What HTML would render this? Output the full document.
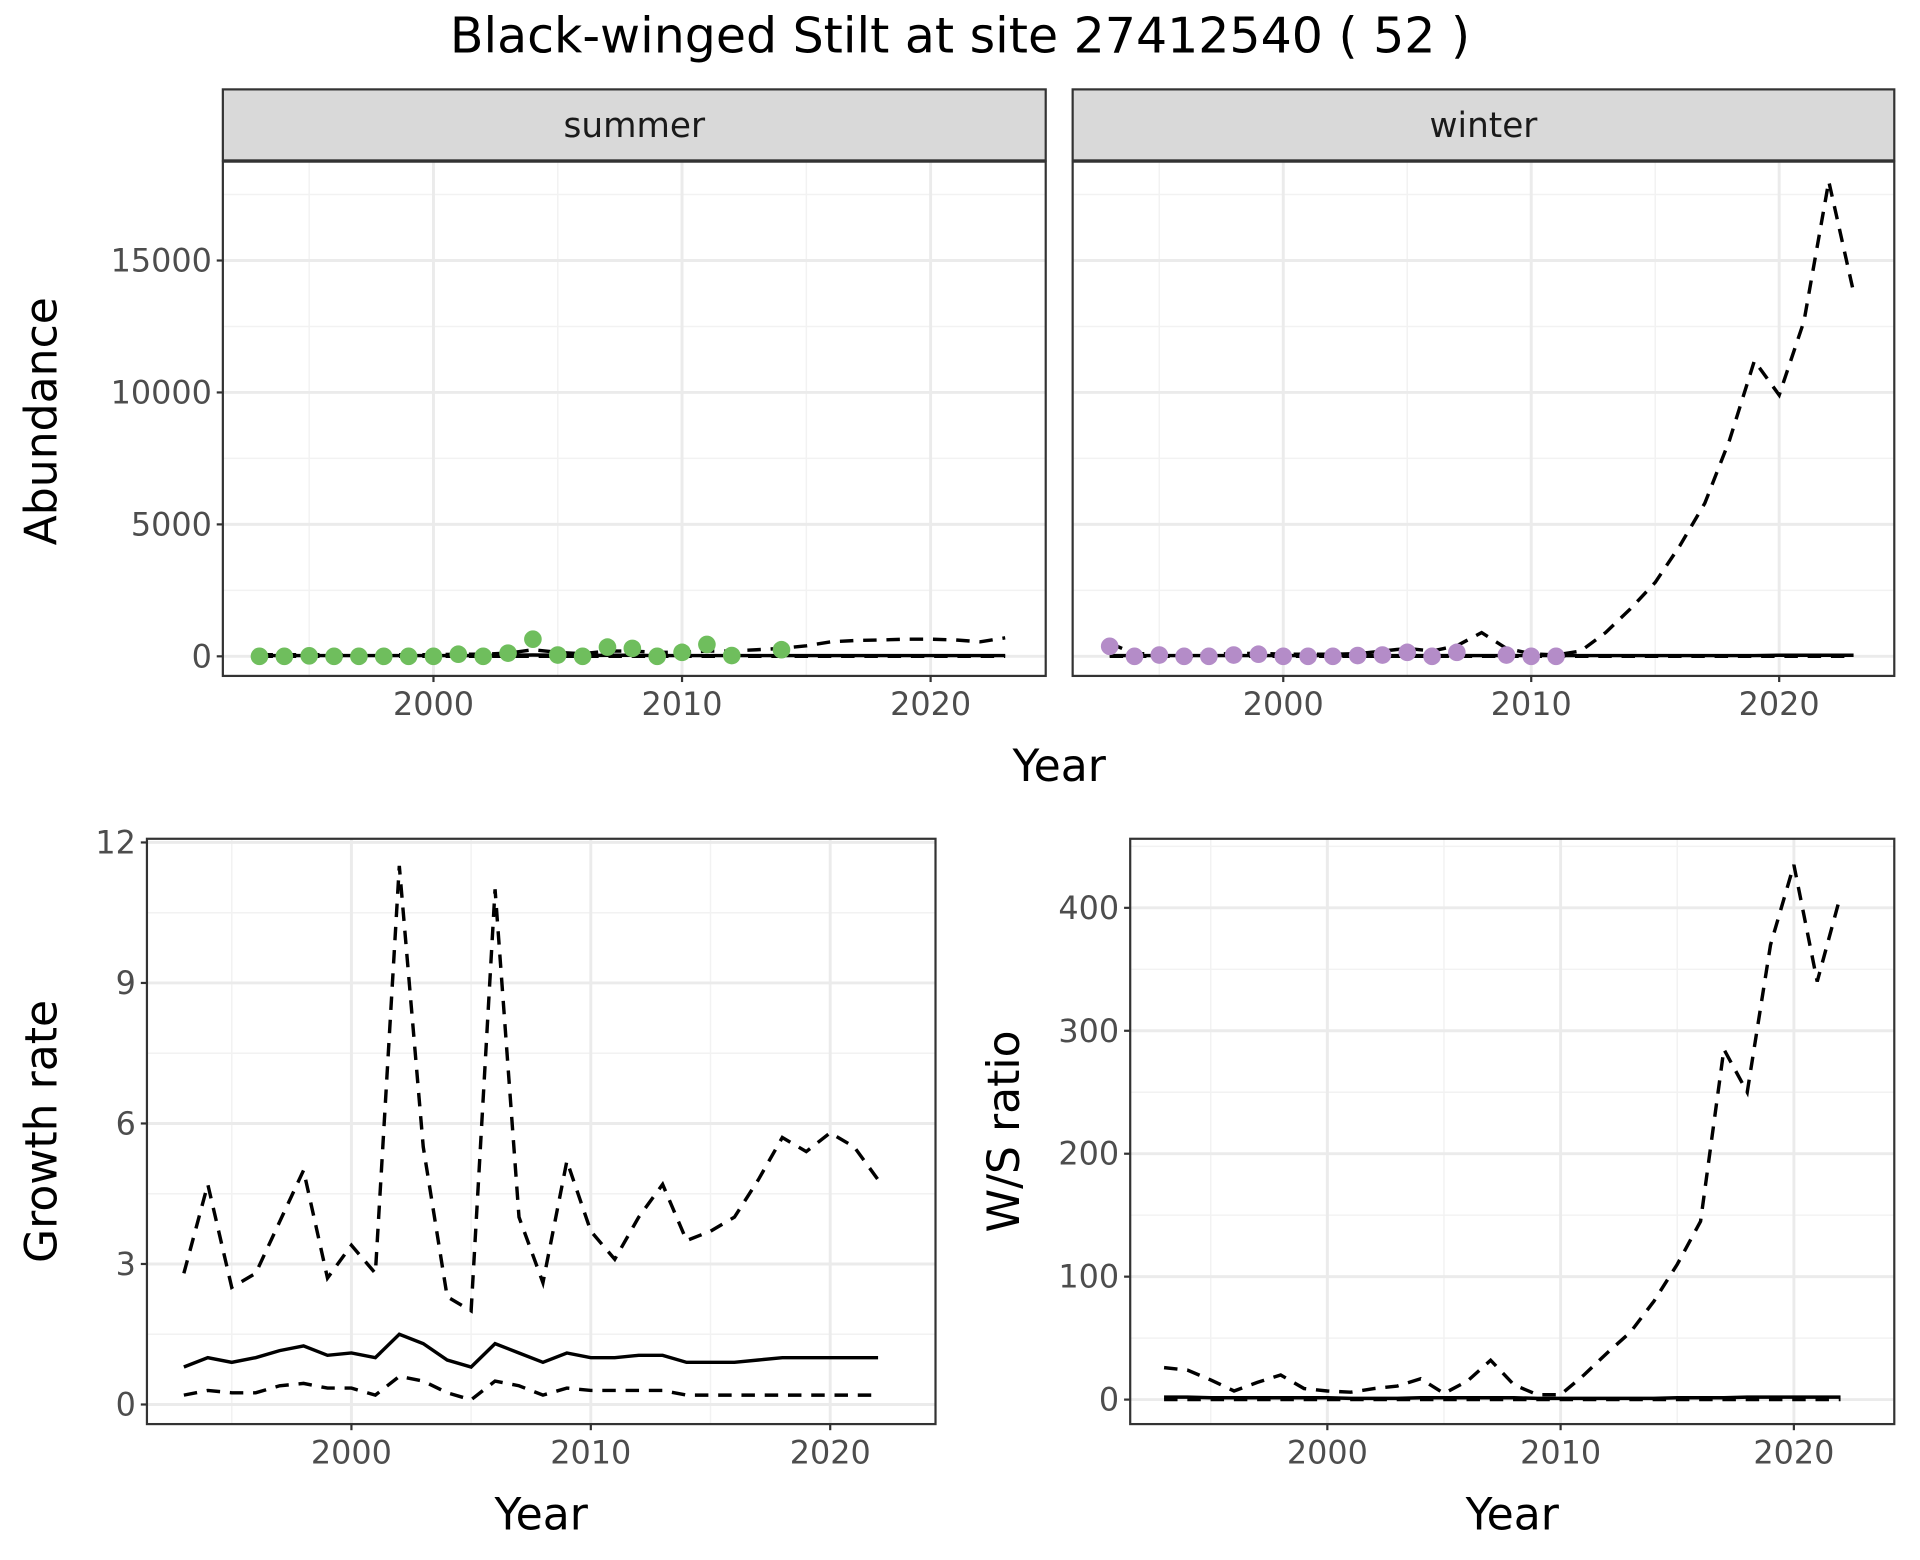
<!DOCTYPE html>
<html><head><meta charset="utf-8"><style>html,body{margin:0;padding:0;background:#fff}svg{display:block}text{font-family:"DejaVu Sans","Liberation Sans",sans-serif}</style></head>
<body>
<svg id="c" width="1920" height="1560" viewBox="0 0 1568 1274" xmlns="http://www.w3.org/2000/svg">
<text x="784" y="43" font-size="34" text-anchor="middle" fill="#000" style="font-size:40px">Black-winged Stilt at site 27412540 ( 52 )</text>
</svg>
<script>
const yearsAll=[1993,1994,1995,1996,1997,1998,1999,2000,2001,2002,2003,2004,2005,2006,2007,2008,2009,2010,2011,2012,2013,2014,2015,2016,2017,2018,2019,2020,2021,2022,2023];
const summerPtYears=[1993,1994,1995,1996,1997,1998,1999,2000,2001,2002,2003,2004,2005,2006,2007,2008,2009,2010,2011,2012,2014];
const summerPtVals=[0,0,20,0,0,0,0,0,80,0,120,650,50,0,350,300,0,150,450,30,250];
const summerFit=[30,30,30,30,30,30,30,30,30,30,40,50,40,30,40,40,30,30,30,30,30,30,30,30,30,30,30,30,30,30,30];
const summerUp=[60,60,60,60,60,60,60,60,80,80,120,250,150,100,200,200,150,150,200,200,250,300,400,550,600,620,650,650,620,550,700];
const summerLo=[0,0,0,0,0,0,0,0,0,0,0,0,0,0,0,0,0,0,0,0,0,0,0,0,0,0,0,0,0,0,0];
const winterPtYears=[1993,1994,1995,1996,1997,1998,1999,2000,2001,2002,2003,2004,2005,2006,2007,2009,2010,2011];
const winterPtVals=[380,0,50,0,0,50,80,0,0,0,30,50,150,0,150,50,0,0];
const winterFit=[30,30,30,30,30,30,30,30,30,30,30,30,30,30,30,30,30,30,30,30,30,30,30,30,30,30,30,40,40,40,40];
const winterUp=[500,100,100,80,80,100,120,80,80,80,100,200,300,200,400,900,300,100,50,200,900,1800,2800,4200,5800,8200,11200,9900,12700,18000,13800];
const winterLo=[0,0,0,0,0,0,0,0,0,0,0,0,0,0,0,0,0,0,0,0,0,0,0,0,0,0,0,0,0,0,0];
const gYears=yearsAll.slice(0,30);
const growthFit=[.8,1,.9,1,1.15,1.25,1.05,1.1,1,1.5,1.3,.95,.8,1.3,1.1,.9,1.1,1,1,1.05,1.05,.9,.9,.9,.95,1,1,1,1,1];
const growthUp=[2.8,4.7,2.5,2.8,3.9,5,2.7,3.4,2.8,11.5,5.5,2.3,2,11,4,2.6,5.2,3.7,3.1,4,4.7,3.5,3.7,4,4.8,5.7,5.4,5.8,5.5,4.8];
const growthLo=[.2,.3,.25,.25,.4,.45,.35,.35,.2,.6,.5,.25,.1,.5,.4,.2,.35,.3,.3,.3,.3,.2,.2,.2,.2,.2,.2,.2,.2,.2];
const ratioFit=[2,2,1.5,1.5,1.5,1.5,1.5,1.5,1,1,1,1.5,1.5,1.5,1.5,1.5,1,1,1,1,1,1,1.5,1.5,1.5,2,2,2,2,2];
const ratioUp=[26,24,16,7,14,20,9,7,6,9,11,17,5,15,32,12,4,4,20,38,55,80,110,145,285,250,370,435,340,410];
const ratioLo=[0,0,0,0,0,0,0,0,0,0,0,0,0,0,0,0,0,0,0,0,0,0,0,0,0,0,0,0,0,0];
const abTicks=[0,5000,10000,15000];
const xTicks=[2000,2010,2020];
const gTicks=[0,3,6,9,12];
const gTickLabels=["0","3","6","9","12"];
const rTicks=[0,100,200,300,400];

const svg=document.getElementById('c');
const NS='http://www.w3.org/2000/svg';
function mk(t,a,parent){const e=document.createElementNS(NS,t);for(const k in a)e.setAttribute(k,a[k]);(parent||svg).appendChild(e);return e;}

function panel(p){
  const g=mk('g',{});
  
  
  const sx=v=>p.x0+(v-p.xv0)*p.xs, sy=v=>p.y0-(v)*p.ys;
  mk('rect',{x:p.L,y:p.T,width:p.R-p.L,height:p.B-p.T,fill:'#fff'},g);
  for(let i=0;i<p.xt.length+1;i++){const v=p.xt[0]-5+i*10;const x=sx(v);if(x>p.L&&x<p.R)mk('line',{x1:x,x2:x,y1:p.T,y2:p.B,stroke:'#f2f2f2','stroke-width':1.2},g);}
  for(let i=0;i<p.yt.length;i++){const v=p.yt[i]+(p.yt[1]-p.yt[0])/2;const y=sy(v);if(y>p.T&&y<p.B)mk('line',{x1:p.L,x2:p.R,y1:y,y2:y,stroke:'#f2f2f2','stroke-width':1.2},g);}
  p.xt.forEach(v=>{const x=sx(v);mk('line',{x1:x,x2:x,y1:p.T,y2:p.B,stroke:'#ebebeb','stroke-width':2.4},g);});
  p.yt.forEach(v=>{const y=sy(v);mk('line',{x1:p.L,x2:p.R,y1:y,y2:y,stroke:'#ebebeb','stroke-width':2.4},g);});
  const line=(xs,ys,dash,name)=>{const e=mk('polyline',{points:xs.map((x,i)=>sx(x)+','+sy(ys[i])).join(' '),fill:'none',stroke:'#000','stroke-width':2.8,'stroke-dasharray':dash?'11,8':'none'},g);
    
    };
  line(p.lx,p.fit,false,'fit-line');line(p.lx,p.up,true,'upper-ci-line');line(p.lx,p.lo,true,'lower-ci-line');
  if(p.px){p.px.forEach((x,i)=>{const c=mk('circle',{cx:sx(x),cy:sy(p.pv[i]),r:7.2,fill:p.col},g);
    
    });}
  mk('rect',{x:p.L,y:p.T,width:p.R-p.L,height:p.B-p.T,fill:'none',stroke:'#333','stroke-width':1.8},g);
  if(p.showY){p.yt.forEach((v,i)=>{const y=sy(v);mk('line',{x1:p.L-5,x2:p.L,y1:y,y2:y,stroke:'#333','stroke-width':1.8},g);
    const t=mk('text',{x:p.L-9,y:y+9,'font-size':26,'text-anchor':'end',fill:'#4d4d4d'},g);t.textContent=p.ytl?p.ytl[i]:String(v);
    
    });}
  p.xt.forEach(v=>{const x=sx(v);mk('line',{x1:x,x2:x,y1:p.B,y2:p.B+5,stroke:'#333','stroke-width':1.8},g);
    const t=mk('text',{x:x,y:p.B+32,'font-size':26,'text-anchor':'middle',fill:'#4d4d4d'},g);t.textContent=v;
    
    });
  if(p.strip){mk('rect',{x:p.L,y:73,width:p.R-p.L,height:58,fill:'#d9d9d9',stroke:'#333','stroke-width':1.8},g);
    const t=mk('text',{x:(p.L+p.R)/2,y:112,'font-size':28,'text-anchor':'middle',fill:'#1a1a1a'},g);t.textContent=p.strip;
    
    }
}
panel({name:'summer-panel',L:182,R:854,T:132,B:552,x0:354,xv0:2000,xs:20.3,y0:536,ys:0.02155,xt:xTicks,yt:abTicks,showY:true,lx:yearsAll,fit:summerFit,up:summerUp,lo:summerLo,px:summerPtYears,pv:summerPtVals,col:'#6fbe5d',strip:'summer'});
panel({name:'winter-panel',L:876,R:1547,T:132,B:552,x0:1048,xv0:2000,xs:20.25,y0:536,ys:0.02155,xt:xTicks,yt:abTicks,showY:false,lx:yearsAll,fit:winterFit,up:winterUp,lo:winterLo,px:winterPtYears,pv:winterPtVals,col:'#b48cc8',strip:'winter'});
panel({name:'growth-panel',L:120,R:764,T:685,B:1163,x0:287,xv0:2000,xs:19.55,y0:1147,ys:38.25,xt:xTicks,yt:gTicks,ytl:gTickLabels,showY:true,lx:gYears,fit:growthFit,up:growthUp,lo:growthLo});
panel({name:'ratio-panel',L:923,R:1547,T:685,B:1163,x0:1084,xv0:2000,xs:19.05,y0:1143,ys:1.004,xt:xTicks,yt:rTicks,showY:true,lx:gYears,fit:ratioFit,up:ratioUp,lo:ratioLo});
function label(txt,x,y,rot,name){const t=mk('text',{x:x,y:y,'font-size':36,'text-anchor':'middle',fill:'#000',transform:rot?`rotate(-90 ${x} ${y})`:''});t.textContent=txt;
  
  }
label('Abundance',46,344,true,'y-axis-title-abundance');
label('Year',865,638,false,'x-axis-title-top');
label('Growth rate',46,924,true,'y-axis-title-growth');
label('Year',442,1249,false,'x-axis-title-growth');
label('W/S ratio',832,924,true,'y-axis-title-ratio');
label('Year',1235,1249,false,'x-axis-title-ratio');
</script>
</body></html>
